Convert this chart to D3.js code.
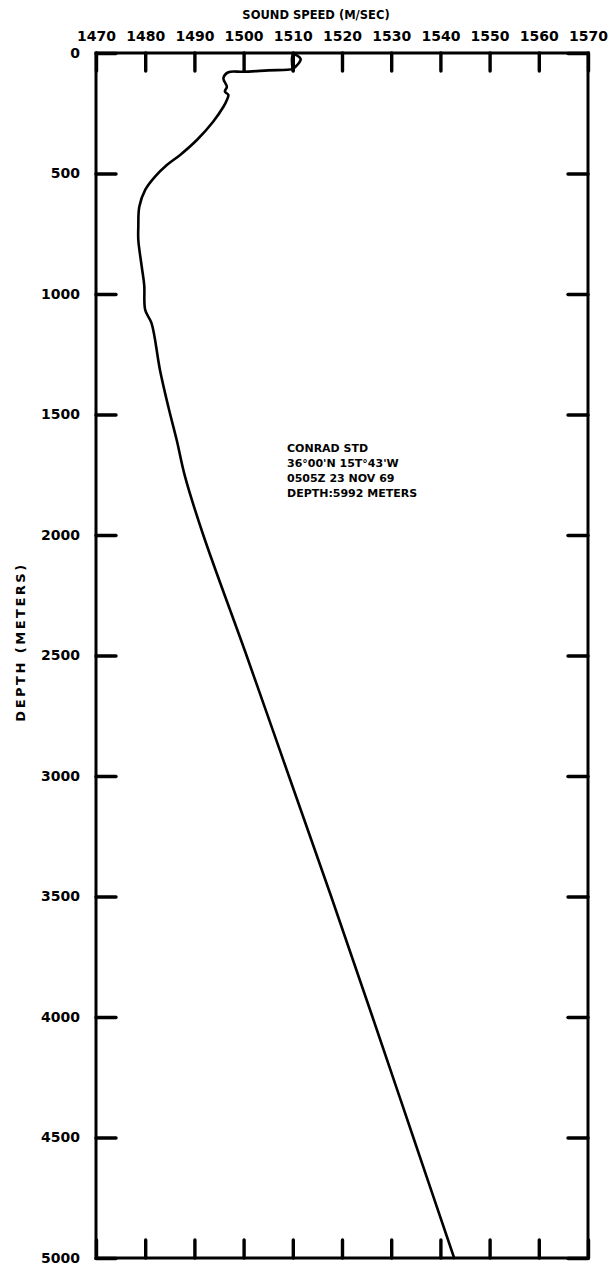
<!DOCTYPE html>
<html>
<head>
<meta charset="utf-8">
<script src="https://cdn.jsdelivr.net/npm/d3@7"></script>
<style>
  html, body { margin: 0; padding: 0; background: #fff; }
  svg { display: block; }
  text { font-family: "DejaVu Sans", sans-serif; font-weight: bold; fill: #000; }
</style>
</head>
<body>
<svg id="chart" width="613" height="1276"></svg>
<script>
// Sound speed profile (m/s) against depth (m)
const speedValues = [
  1510.0, 1510.0, 1511.0, 1511.6, 1511.3, 1510.6, 1510.0,
  1505.0, 1500.0, 1496.9, 1495.9, 1496.6, 1496.2, 1496.9, 1496.6, 1495.9,
  1493.8, 1490.5, 1487.1, 1484.4, 1482.0, 1480.0, 1478.8, 1478.6, 1478.6,
  1479.3, 1479.8, 1480.0, 1481.3, 1483.0, 1484.7, 1486.4, 1488.1,
  1491.8, 1500.6, 1509.2, 1517.8, 1526.2, 1534.5, 1542.8
];
const depthValues = [
  75, 8, 12, 25, 40, 56, 66,
  72, 78, 80, 105, 140, 160, 174, 195, 223,
  285, 361, 423, 465, 513, 568, 638, 721, 776,
  887, 963, 1066, 1122, 1315, 1468, 1606, 1758,
  2000, 2500, 3000, 3500, 4000, 4500, 5000
];

const speedTicks = [1470, 1480, 1490, 1500, 1510, 1520, 1530, 1540, 1550, 1560, 1570];
const depthTicks = [0, 500, 1000, 1500, 2000, 2500, 3000, 3500, 4000, 4500, 5000];

const xTitle = "SOUND SPEED (M/SEC)";
const yTitle = "DEPTH (METERS)";
const noteLines = ["CONRAD STD", "36°00'N 15T°43'W", "0505Z  23 NOV 69", "DEPTH:5992 METERS"];

const svg = d3.select("#chart");
const W = 613, H = 1276;
const frame = { left: 96, right: 588, top: 53, bottom: 1258 };

svg.append("rect").attr("width", W).attr("height", H).attr("fill", "#fff");

const x = d3.scaleLinear().domain([1470, 1570]).range([frame.left, frame.right]);
const y = d3.scaleLinear().domain([0, 5000]).range([frame.top, frame.bottom]);

function styleAxis(g, fontSize) {
  g.select(".domain").remove();
  g.selectAll(".tick line").attr("stroke", "#000").attr("stroke-width", 3.4).attr("stroke-linecap", "round");
  g.selectAll(".tick text").attr("font-size", fontSize).attr("font-family", "DejaVu Sans").attr("font-weight", "bold").attr("fill", "#000");
}

// top axis: labels and inward ticks
svg.append("g")
  .attr("transform", `translate(0,${frame.top})`)
  .call(d3.axisTop(x).tickValues(speedTicks).tickSize(-18).tickPadding(12).tickFormat(d3.format("d")))
  .call(g => styleAxis(g, 14));

// bottom axis: inward ticks only
svg.append("g")
  .attr("transform", `translate(0,${frame.bottom})`)
  .call(d3.axisBottom(x).tickValues(speedTicks).tickSize(-18).tickFormat(""))
  .call(g => styleAxis(g, 14));

// left axis: depth labels and inward ticks
svg.append("g")
  .attr("transform", `translate(${frame.left},0)`)
  .call(d3.axisLeft(y).tickValues(depthTicks).tickSize(-20).tickPadding(16).tickFormat(d3.format("d")))
  .call(g => styleAxis(g, 14));

// right axis: inward ticks only
svg.append("g")
  .attr("transform", `translate(${frame.right},0)`)
  .call(d3.axisRight(y).tickValues(depthTicks).tickSize(-20).tickFormat(""))
  .call(g => styleAxis(g, 14));

// plot frame
svg.append("rect")
  .attr("x", frame.left).attr("y", frame.top)
  .attr("width", frame.right - frame.left).attr("height", frame.bottom - frame.top)
  .attr("fill", "none").attr("stroke", "#000").attr("stroke-width", 3);

// profile curve
const pts = speedValues.map((s, i) => [s, depthValues[i]]);
const line = d3.line()
  .x(d => x(d[0]))
  .y(d => y(d[1]))
  .curve(d3.curveCatmullRom.alpha(0.5));

svg.append("path")
  .datum(pts)
  .attr("d", line)
  .attr("fill", "none")
  .attr("stroke", "#000")
  .attr("stroke-width", 2.6)
  .attr("stroke-linejoin", "round")
  .attr("stroke-linecap", "round");

// titles
svg.append("text")
  .attr("x", 316).attr("y", 19)
  .attr("text-anchor", "middle")
  .attr("font-size", 11.5)
  .text(xTitle);

svg.append("text")
  .attr("transform", `translate(25,642) rotate(-90)`)
  .attr("text-anchor", "middle")
  .attr("font-size", 13)
  .attr("letter-spacing", 2.5)
  .text(yTitle);

// station note
const note = svg.append("g").attr("transform", "translate(287,452)");
note.selectAll("text")
  .data(noteLines)
  .join("text")
  .attr("x", 0)
  .attr("y", (d, i) => i * 15)
  .attr("font-size", 11)
  .text(d => d);
</script>
</body>
</html>
